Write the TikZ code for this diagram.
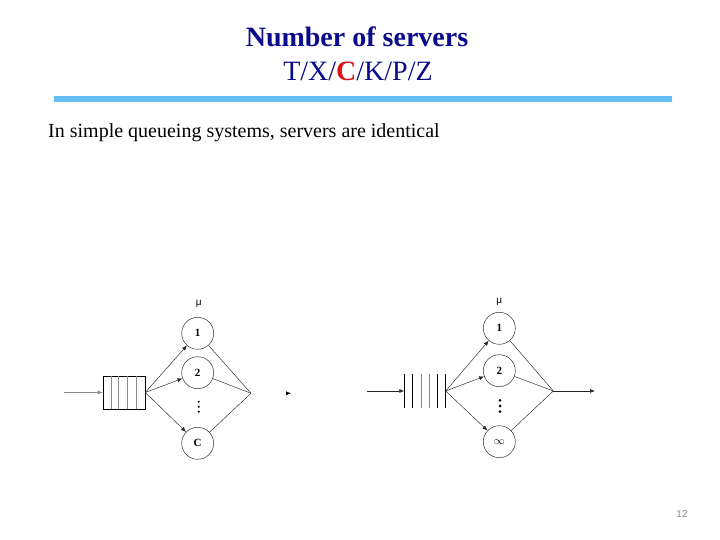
\documentclass[tikz,border=0pt]{standalone}
\usepackage{fontspec}
\setmainfont{Liberation Serif}
\newfontfamily\pagenofont{Liberation Sans}
\usepackage{tikz}
\usetikzlibrary{arrows.meta,positioning}
\usepackage{xcolor}
\definecolor{titleblue}{RGB}{10,10,140}
\definecolor{slidered}{RGB}{220,20,20}
\definecolor{barblue}{RGB}{100,192,245}
\tikzset{
  server/.style={draw=black!80,circle,minimum size=32pt,inner sep=0pt,line width=0.5pt,
    font=\fontsize{11}{12}\selectfont\bfseries},
  queuebox/.style={draw=black,line width=0.6pt,minimum width=42pt,minimum height=33pt,inner sep=0pt},
  qline/.style={line width=1pt,draw=black!45},
  qlinedark/.style={line width=1pt,draw=black},
  feed/.style={-{Latex[length=5pt,width=4pt]},line width=0.45pt,draw=black!85},
  mergeline/.style={line width=0.45pt,draw=black!85},
  ratelabel/.style={font=\pagenofont\fontsize{10}{11}\selectfont,inner sep=1pt}
}

\begin{document}
\begin{tikzpicture}[x=1pt,y=-1pt]
  \useasboundingbox (0,0) rectangle (720,540);
  % title
  \node[font=\fontsize{28}{32}\selectfont\bfseries,text=titleblue] (title) at (357,37) {Number of servers};
  \node[font=\fontsize{28}{32}\selectfont,text=titleblue] (kendall) at (358,71)
    {T/X/\textcolor{slidered}{\textbf{C}}/K/P/Z};
  \fill[barblue] (54,96.5) rectangle (672,102.5);
  \node[font=\fontsize{20}{24}\selectfont,anchor=west,inner sep=0pt] (intro) at (48,133)
    {In simple queueing systems, servers are identical};

  % left: C servers
  \coordinate (inL) at (64,392.5);
  \node[queuebox] (qL) at (124,392.5) {};
  \foreach \x in {111,118.7,127.3,136}
    \draw[qline] (\x,376) -- (\x,409);
  \node[server] (l1) at (197.7,333.3) {1};
  \node[server] (l2) at (197.7,372.7) {2};
  \foreach \y in {401.7,406.7,411.7}
    \fill (198.7,\y) circle (1.1);
  \node[server] (lc) at (197.7,443.3) {C};
  \node[ratelabel] (lmu) at (198.7,304) {μ};
  \coordinate (mL) at (251,393.3);
  \coordinate (oL) at (291,393.3);
  \draw[feed,draw=black!45] (inL) -- (qL.west);
  \draw[feed] (qL.east) -- (l1);
  \draw[feed] (qL.east) -- (l2);
  \draw[feed] (qL.east) -- (lc);
  \draw[mergeline] (l1) -- (mL);
  \draw[mergeline] (l2) -- (mL);
  \draw[mergeline] (lc) -- (mL);
  \draw[-{Latex[length=5pt,width=4pt,color=black]},draw=white] (mL) -- (oL);

  % right: infinite servers
  \coordinate (inR) at (366.7,391);
  \coordinate (qR) at (445.7,391);
  \foreach \x in {404.3,412.7,437.3,445.7}
    \draw[qlinedark] (\x,374.3) -- (\x,407.7);
  \foreach \x in {421,429.3}
    \draw[qline] (\x,374.3) -- (\x,407.7);
  \node[server] (r1) at (499.3,328.3) {1};
  \node[server] (r2) at (499.3,370.7) {2};
  \foreach \y in {400.3,406,411.7}
    \fill (500,\y) circle (1.5);
  \node[server,font=\fontsize{11}{12}\selectfont] (rinf) at (499.3,441.7) {$\infty$};
  \node[ratelabel] (rmu) at (499.3,302) {μ};
  \coordinate (mR) at (553.3,391);
  \coordinate (oR) at (595,391);
  \draw[feed,line width=0.6pt] (inR) -- (404.3,391);
  \draw[feed] (qR) -- (r1);
  \draw[feed] (qR) -- (r2);
  \draw[feed] (qR) -- (rinf);
  \draw[mergeline] (r1) -- (mR);
  \draw[mergeline] (r2) -- (mR);
  \draw[mergeline] (rinf) -- (mR);
  \draw[feed,line width=0.6pt] (mR) -- (oR);

  % page number
  \node[font=\pagenofont\fontsize{10}{12}\selectfont,text=black!45] (pageno) at (682,514) {12};
\end{tikzpicture}
\end{document}
